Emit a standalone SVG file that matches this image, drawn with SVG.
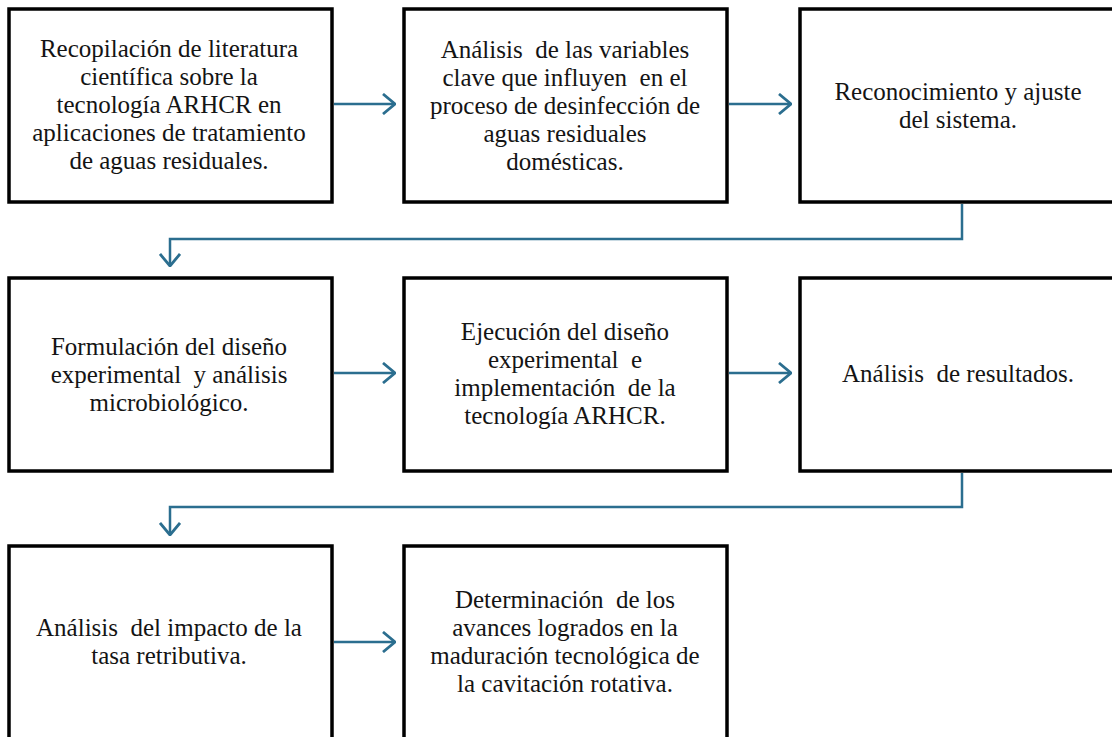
<svg xmlns="http://www.w3.org/2000/svg" width="1112" height="737" viewBox="0 0 1112 737">
<style>
.box{fill:#fff;stroke:#000;stroke-width:3.5}
.t{font-family:'Liberation Serif','Times New Roman',serif;font-size:25px;fill:#141414;text-anchor:middle;white-space:pre}
.c{fill:none;stroke:#2b6e8f;stroke-width:2.5}
</style>
<defs>
<marker id="ah" viewBox="0 0 14 22" refX="13" refY="11" markerWidth="14" markerHeight="22" markerUnits="userSpaceOnUse" orient="auto">
<path d="M1,1 L13,11 L1,21" fill="none" stroke="#2b6e8f" stroke-width="2.8"/>
</marker>
</defs>
<rect width="1112" height="737" fill="#fff"/>
<g id="connectors">
<line class="c" x1="334" y1="104" x2="395" y2="104" marker-end="url(#ah)"/>
<line class="c" x1="729" y1="104" x2="791" y2="104" marker-end="url(#ah)"/>
<path class="c" d="M962,204 V239 H170 V266" marker-end="url(#ah)"/>
<line class="c" x1="334" y1="373" x2="395" y2="373" marker-end="url(#ah)"/>
<line class="c" x1="729" y1="373" x2="791" y2="373" marker-end="url(#ah)"/>
<path class="c" d="M962,473 V507 H170 V535" marker-end="url(#ah)"/>
<line class="c" x1="334" y1="642" x2="395" y2="642" marker-end="url(#ah)"/>
</g>
<g id="n1">
<rect class="box" x="9" y="9" width="323" height="193"/>
<text class="t"><tspan x="169" y="57">Recopilación de literatura</tspan><tspan x="169" y="85">científica sobre la</tspan><tspan x="169" y="113">tecnología ARHCR en</tspan><tspan x="169" y="141">aplicaciones de tratamiento</tspan><tspan x="169" y="169">de aguas residuales.</tspan></text>
</g>
<g id="n2">
<rect class="box" x="404" y="9" width="323" height="193"/>
<text class="t"><tspan x="565" y="58">Análisis  de las variables</tspan><tspan x="565" y="86">clave que influyen  en el</tspan><tspan x="565" y="114">proceso de desinfección de</tspan><tspan x="565" y="142">aguas residuales</tspan><tspan x="565" y="170">domésticas.</tspan></text>
</g>
<g id="n3">
<rect class="box" x="800" y="9" width="330" height="193"/>
<text class="t"><tspan x="958" y="100">Reconocimiento y ajuste</tspan><tspan x="958" y="128">del sistema.</tspan></text>
</g>
<g id="n4">
<rect class="box" x="9" y="278" width="323" height="193"/>
<text class="t"><tspan x="169" y="355">Formulación del diseño</tspan><tspan x="169" y="383">experimental  y análisis</tspan><tspan x="169" y="411">microbiológico.</tspan></text>
</g>
<g id="n5">
<rect class="box" x="404" y="278" width="323" height="193"/>
<text class="t"><tspan x="565" y="340">Ejecución del diseño</tspan><tspan x="565" y="368">experimental  e</tspan><tspan x="565" y="396">implementación  de la</tspan><tspan x="565" y="424">tecnología ARHCR.</tspan></text>
</g>
<g id="n6">
<rect class="box" x="800" y="278" width="330" height="193"/>
<text class="t"><tspan x="958" y="382">Análisis  de resultados.</tspan></text>
</g>
<g id="n7">
<rect class="box" x="9" y="546" width="323" height="193"/>
<text class="t"><tspan x="169" y="636">Análisis  del impacto de la</tspan><tspan x="169" y="664">tasa retributiva.</tspan></text>
</g>
<g id="n8">
<rect class="box" x="404" y="546" width="323" height="193"/>
<text class="t"><tspan x="565" y="608">Determinación  de los</tspan><tspan x="565" y="636">avances logrados en la</tspan><tspan x="565" y="664">maduración tecnológica de</tspan><tspan x="565" y="692">la cavitación rotativa.</tspan></text>
</g>
</svg>
